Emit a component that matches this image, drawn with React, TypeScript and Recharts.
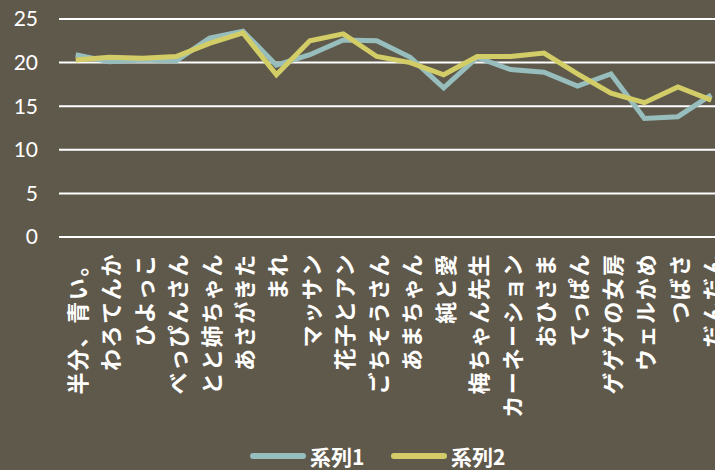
import React from "react";
import { LineChart, Line, XAxis, YAxis, CartesianGrid, Legend } from "recharts";

const categories = [
  "半分、青い。", "わろてんか", "ひよっこ", "べっぴんさん", "とと姉ちゃん",
  "あさがきた", "まれ", "マッサン", "花子とアン", "ごちそうさん",
  "あまちゃん", "純と愛", "梅ちゃん先生", "カーネーション", "おひさま",
  "てっぱん", "ゲゲゲの女房", "ウェルかめ", "つばさ", "だんだん",
];
const series1 = [20.9, 20.1, 20.3, 20.2, 22.8, 23.6, 19.7, 20.9, 22.6, 22.5, 20.6, 17.1, 20.6, 19.2, 18.9, 17.3, 18.7, 13.6, 13.8, 16.3];
const series2 = [20.3, 20.6, 20.5, 20.7, 22.2, 23.4, 18.6, 22.5, 23.3, 20.7, 20.0, 18.6, 20.7, 20.7, 21.1, 18.7, 16.5, 15.4, 17.2, 15.7];
const yTicks = [0, 5, 10, 15, 20, 25];
const seriesNames = ["系列1", "系列2"];

const BG = "#5f594b";
const C1 = "#97bdbd";
const C2 = "#d3cd68";

const data = categories.map((c, i) => ({ name: c, s1: series1[i], s2: series2[i] }));

const XTick = (props: any) => {
  const { x, y, payload } = props;
  const ty = y + 16;
  return (
    <text
      x={x}
      y={ty}
      transform={`rotate(-90 ${x} ${ty})`}
      textAnchor="end"
      dominantBaseline="central"
      fill="#ffffff"
      fontSize={22}
      fontWeight="bold"
      letterSpacing={1.6}
      fontFamily="'Noto Sans CJK JP', sans-serif"
    >
      {payload.value}
    </text>
  );
};

const LegendContent = () => {
  const item = (left: number, color: string, label: string) => (
    <div style={{ position: "absolute", left, top: 0, height: 22, display: "flex", alignItems: "center" }}>
      <div style={{ width: 56, height: 6, borderRadius: 3, background: color, marginRight: 4 }} />
      <span style={{ color: "#fff", fontSize: 21, fontWeight: "bold", fontFamily: "'Noto Sans CJK JP', sans-serif", lineHeight: "22px", whiteSpace: "nowrap" }}>{label}</span>
    </div>
  );
  return (
    <div style={{ position: "relative", width: 715, height: 22 }}>
      {item(250, C1, seriesNames[0])}
      {item(391, C2, seriesNames[1])}
    </div>
  );
};

export default function App() {
  return (
    <div style={{ position: "absolute", left: 0, top: 0, width: 715, height: 470, overflow: "hidden", background: BG }}>
      <LineChart width={730} height={470} data={data} margin={{ top: 19, right: 2, left: 0, bottom: 3 }}>
        <CartesianGrid horizontal vertical={false} stroke="#ffffff" strokeWidth={2} />
        <XAxis
          dataKey="name"
          interval={0}
          tick={<XTick />}
          tickLine={false}
          axisLine={false}
          tickSize={0}
          tickMargin={0}
          height={208}
          padding={{ left: 16.7, right: 16.7 }}
        />
        <YAxis
          domain={[0, 25]}
          ticks={yTicks}
          width={59}
          tickLine={false}
          axisLine={false}
          tickSize={0}
          tickMargin={21}
          tick={{ fill: "#ffffff", fontSize: 21, fontFamily: "Lato, sans-serif" }}
        />
        <Legend
          verticalAlign="bottom"
          content={<LegendContent />}
          wrapperStyle={{ left: 0, bottom: 3, width: 715, height: 22 }}
        />
        <Line type="linear" dataKey="s1" name={seriesNames[0]} stroke={C1} strokeWidth={5} dot={false} isAnimationActive={false} />
        <Line type="linear" dataKey="s2" name={seriesNames[1]} stroke={C2} strokeWidth={5} dot={false} isAnimationActive={false} />
      </LineChart>
    </div>
  );
}
